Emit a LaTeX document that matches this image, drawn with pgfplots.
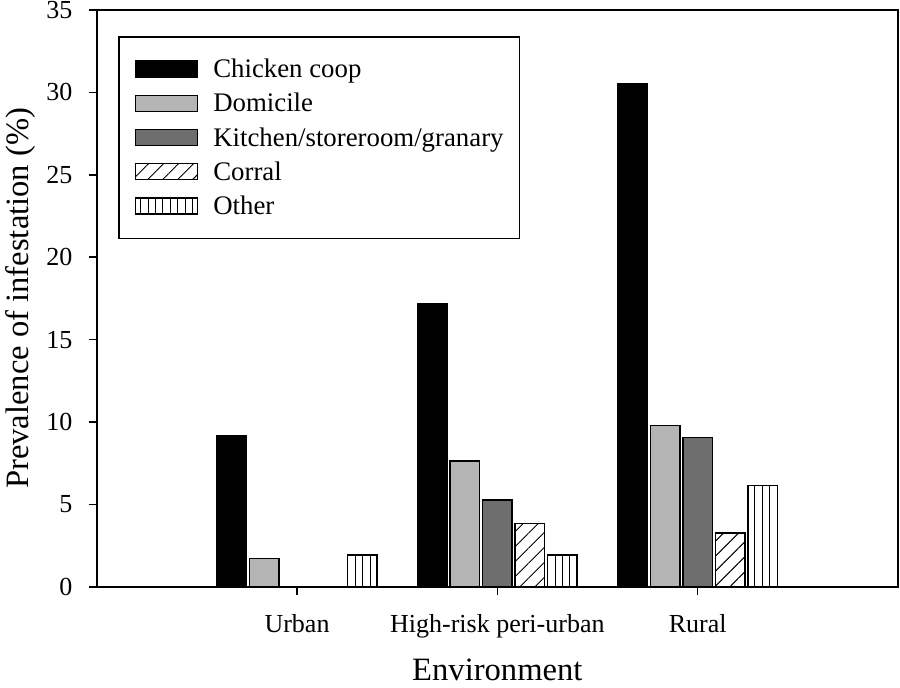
\documentclass[border=0pt]{standalone}
\usepackage{fontspec}
\setmainfont{Liberation Serif}
\usepackage{pgfplots}
\pgfplotsset{compat=1.18}
\usetikzlibrary{patterns.meta}

\definecolor{domgray}{RGB}{180,180,180}
\definecolor{kitgray}{RGB}{110,110,110}

\begin{document}
\begin{tikzpicture}
\begin{axis}[
  scale only axis,
  width=400.65pt, height=288.35pt,
  xmin=0, xmax=4, ymin=0, ymax=35,
  xtick={1,2,3},
  xticklabels={Urban, High-risk peri-urban, Rural},
  ytick={0,5,...,35},
  tick align=outside,
  tick pos=left,
  major tick length=4pt,
  axis line style={line width=1pt},
  tick style={line width=0.8pt, black},
  /pgf/number format/assume math mode=true,
  ticklabel style={font=\fontsize{13}{15}\selectfont},
  yticklabel style={anchor=east, inner sep=0pt, xshift=-8pt},
  xticklabel style={anchor=base, inner sep=0pt, yshift=-18.65pt},
  xlabel={Environment},
  ylabel={Prevalence of infestation (\%)},
  label style={font=\fontsize{16.3}{19}\selectfont, inner sep=0pt},
  xlabel style={at={(axis description cs:0.5,-0.1618)}, anchor=base},
  ylabel style={at={(axis description cs:-0.0846,0.5)}, anchor=base},
  ybar, bar width=0.147,
  legend image code/.code={\draw[#1, line width=0.7pt] (0pt,-4pt) rectangle (31pt,4pt);},
  legend cell align=left,
  legend style={at={(axis description cs:0.0266,0.9554)}, anchor=north west,
    draw=black, line width=0.9pt, inner xsep=8pt, inner ysep=9.5pt,
    row sep=3.6pt, column sep=7.5pt,
    font=\fontsize{13.4}{16}\selectfont,
    nodes={inner sep=0pt, text height=11pt, text depth=2.5pt}},
]
\addplot[bar shift=-0.325, fill=black, draw=black, line width=0.7pt]
  coordinates {(1,9.15) (2,17.2) (3,30.5)};
\addlegendentry{Chicken coop}
\addplot[bar shift=-0.1625, fill=domgray, draw=black, line width=0.7pt]
  coordinates {(1,1.7) (2,7.63) (3,9.8)};
\addlegendentry{Domicile}
\addplot[bar shift=0, fill=kitgray, draw=black, line width=0.7pt]
  coordinates {(2,5.26) (3,9.07)};
\addlegendentry{Kitchen/storeroom/granary}
\addplot[bar shift=0.1625, draw=black, line width=0.7pt,
  pattern={Lines[angle=45, distance=5.3pt, line width=0.5pt]}]
  coordinates {(2,3.82) (3,3.25)};
\addlegendentry{Corral}
\addplot[bar shift=0.325, draw=black, line width=0.7pt,
  pattern={Lines[angle=90, distance=3.7pt, line width=0.5pt]}]
  coordinates {(1,1.92) (2,1.92) (3,6.15)};
\addlegendentry{Other}
\end{axis}
\pgfresetboundingbox
\path (current axis.south west) ++(-48.35pt,-50.15pt) rectangle ++(450pt,343.5pt);
\end{tikzpicture}
\end{document}
